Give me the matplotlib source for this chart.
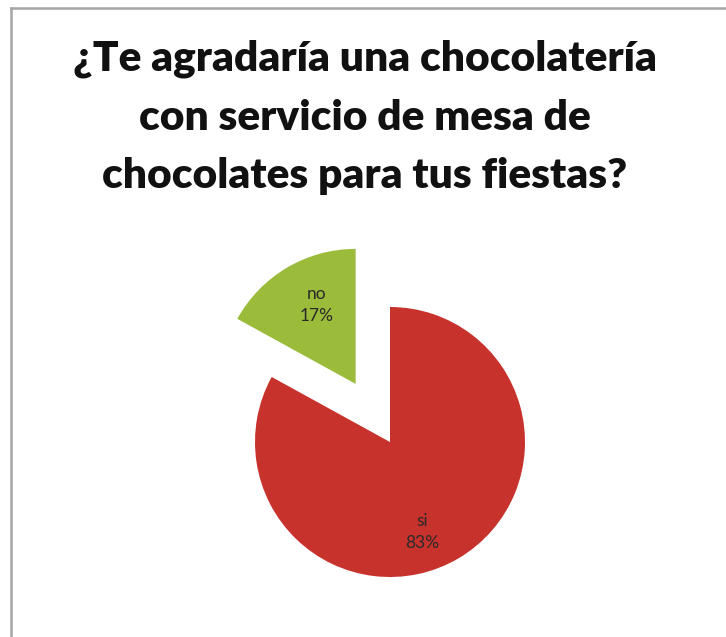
import matplotlib
matplotlib.use("Agg")
import matplotlib.pyplot as plt
from matplotlib.lines import Line2D

# Respuestas de la encuesta
respuestas = ["si", "no"]
porcentajes = [83, 17]
colores = ["#C8322D", "#9BBB3B"]
separacion = [0.0, 0.5]

titulo = "¿Te agradaría una chocolatería\ncon servicio de mesa de\nchocolates para tus fiestas?"

W, H = 726, 637
fig = plt.figure(figsize=(W / 100, H / 100), dpi=100)
fig.patch.set_facecolor("white")

# marco gris del gráfico (arriba e izquierda)
fig.add_artist(Line2D([11 / W, 1.0], [1 - 8 / H, 1 - 8 / H], color="#A5A5A5", lw=1.8))
fig.add_artist(Line2D([11 / W, 11 / W], [1 - 8 / H, 0.0], color="#A5A5A5", lw=1.8))

fig.text(365 / W, 1 - 40 / H, titulo, ha="center", va="top", fontsize=30.5,
         fontweight="heavy", family="Lato", linespacing=1.66, color="#111111")

# pastel: centro (390, 442) px, radio 135 px
cx, cy, r, half = 390, 442, 135, 210
ax = fig.add_axes([(cx - half) / W, (H - cy - half) / H, 2 * half / W, 2 * half / H])
L = half / r
ax.set_aspect("equal")
ax.axis("off")

etiquetas = [f"{n}\n{p}%" for n, p in zip(respuestas, porcentajes)]
wedges, textos = ax.pie(porcentajes, colors=colores, explode=separacion,
                        startangle=90 + porcentajes[1] * 3.6, counterclock=True,
                        labels=etiquetas, labeldistance=0.68, radius=1,
                        textprops=dict(fontsize=12.5, family="Lato", color="#2A2A2A",
                                       ha="center", va="center", linespacing=1.45))
# ajuste fino de las etiquetas dentro de cada sector
x, y = textos[0].get_position()
textos[0].set_position((x - 0.11, y - 0.08))
x, y = textos[1].get_position()
textos[1].set_position((x + 0.06, y))
ax.set_xlim(-L, L)
ax.set_ylim(-L, L)

fig.savefig("out.png", dpi=100, facecolor="white")
